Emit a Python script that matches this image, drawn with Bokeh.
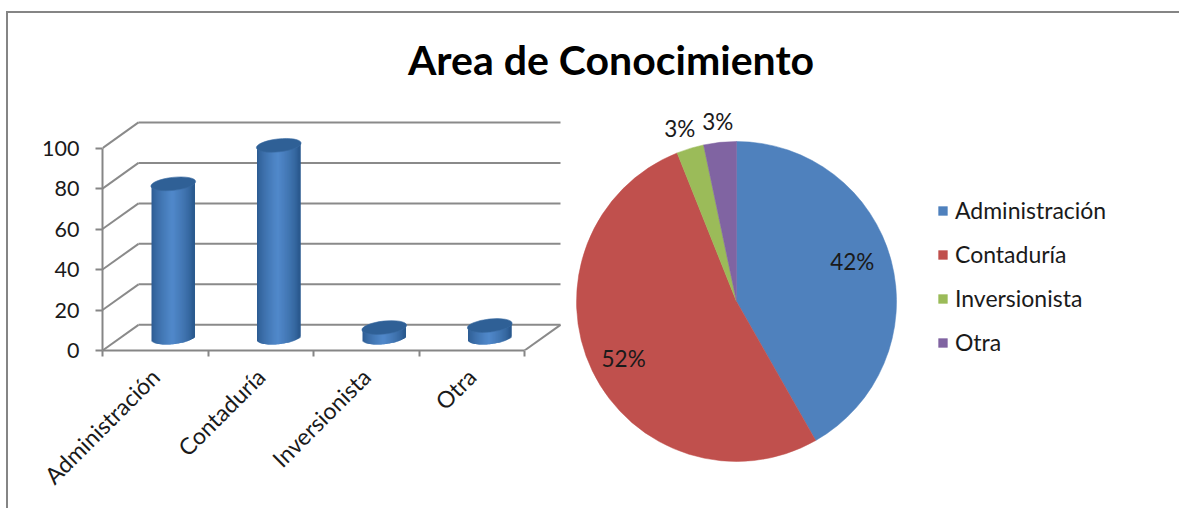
import math
from bokeh.embed import file_html
from bokeh.resources import INLINE
from bokeh.plotting import figure
from bokeh.layouts import column, row
from bokeh.models import (Div, FixedTicker, Legend, LegendItem,
                          LinearAxis, Range1d, Spacer)
from bokeh.core.properties import value

TITLE = "Area de Conocimiento"
categories = ["Administración", "Contaduría", "Inversionista", "Otra"]
values = [76, 95, 5, 6]
percent_labels = ["42%", "52%", "3%", "3%"]
y_ticks = [0, 20, 40, 60, 80, 100]

PIE_COLORS = ["#4f81bd", "#c0504d", "#9bbb59", "#8064a2"]
GRID = "#8a8a8a"
AXIS = "#868686"
TEXT = "#1a1a1a"
FONT = "Lato"
BORDER = "#858585"

PX_X = 105.5   # pixels per category
PX_Y = 2.05    # pixels per value unit
DEPTH_X = 36 / PX_X
DEPTH_Y = 26 / PX_Y
BAR_HALF = 21.75 / PX_X
ELL_W, ELL_H, ELL_ANGLE = 45, 13, 0.11
ARC = 6.5 / PX_Y
TILT = 2.5 / PX_Y


def lerp(c1, c2, t):
    a = [int(c1[i:i + 2], 16) for i in (1, 3, 5)]
    b = [int(c2[i:i + 2], 16) for i in (1, 3, 5)]
    return "#%02x%02x%02x" % tuple(round(x + (y - x) * t) for x, y in zip(a, b))


# ---------- left: 3D cylinder chart ----------
left = figure(width=555, height=397, output_backend="svg", toolbar_location=None,
              x_range=Range1d(0, 462 / PX_X), y_range=Range1d(0, 237 / PX_Y),
              x_axis_type=None, y_axis_type=None, frame_align=False,
              min_border_left=93, min_border_right=0, min_border_top=11, min_border_bottom=149,
              outline_line_color=None)
left.grid.visible = False

n_cat = len(categories)
x0s, y0s, x1s, y1s = [], [], [], []
for t in y_ticks:
    x0s.append(0); y0s.append(t); x1s.append(DEPTH_X); y1s.append(t + DEPTH_Y)
    x0s.append(DEPTH_X); y0s.append(t + DEPTH_Y); x1s.append(n_cat + DEPTH_X); y1s.append(t + DEPTH_Y)
x0s.append(n_cat); y0s.append(0); x1s.append(n_cat + DEPTH_X); y1s.append(DEPTH_Y)
left.segment(x0s, y0s, x1s, y1s, line_color=GRID, line_width=2)

STRIPS = 44
OVERLAP = 1 / PX_X
l, r, b, tp, col = [], [], [], [], []
top_x, top_y = [], []
for i, v in enumerate(values):
    cx = i + 0.5 + DEPTH_X / 2
    base = DEPTH_Y / 2
    top_x.append(cx); top_y.append(base + v)
    for k in range(STRIPS):
        u0 = -1 + 2 * k / STRIPS
        u1 = -1 + 2 * (k + 1) / STRIPS
        u = (u0 + u1) / 2
        l.append(cx + u0 * BAR_HALF)
        r.append(cx + u1 * BAR_HALF + (OVERLAP if k < STRIPS - 1 else 0))
        tp.append(base + v + TILT * u)
        b.append(base + TILT * u - ARC * math.sqrt(max(0, 1 - u * u)))
        shade = max(0, 1 - abs(u + 0.05) / 0.95) ** 0.7
        col.append(lerp("#2b5a8f", "#5189cb", shade))
left.quad(left=l, right=r, bottom=b, top=tp, fill_color=col, line_color=None)
left.ellipse(top_x, top_y, width=ELL_W, height=ELL_H, angle=ELL_ANGLE,
             width_units="screen", height_units="screen",
             fill_color="#2f6096", line_color="#3a6ba3", line_width=0.6)

yaxis = LinearAxis(ticker=FixedTicker(ticks=y_ticks), bounds=(0, 100),
                   axis_line_color=AXIS, axis_line_width=2,
                   major_tick_line_color=AXIS, major_tick_line_width=2,
                   major_tick_out=7, major_tick_in=0,
                   minor_tick_line_color=None, major_label_standoff=16,
                   major_label_text_font=FONT, major_label_text_font_size="21.5px",
                   major_label_text_color=TEXT)
left.add_layout(yaxis, "left")

centers = [i + 0.5 for i in range(n_cat)]
xaxis = LinearAxis(ticker=FixedTicker(ticks=centers, minor_ticks=list(range(n_cat + 1))),
                   bounds=(0, n_cat),
                   major_label_overrides={c: n for c, n in zip(centers, categories)},
                   axis_line_color=AXIS, axis_line_width=2,
                   major_tick_line_color=None, major_tick_out=0, major_tick_in=0,
                   minor_tick_line_color=AXIS, minor_tick_line_width=2,
                   minor_tick_out=6, minor_tick_in=0,
                   major_label_orientation=math.pi / 4, major_label_standoff=16,
                   major_label_text_font=FONT, major_label_text_font_size="23px",
                   major_label_text_color=TEXT)
left.add_layout(xaxis, "below")

# ---------- right: pie ----------
R_PX = 160
right = figure(width=608, height=397, output_backend="svg", toolbar_location=None,
               x_range=Range1d(-172 / R_PX, 436 / R_PX), y_range=Range1d(-201 / R_PX, 196 / R_PX),
               x_axis_type=None, y_axis_type=None, min_border=0, outline_line_color=None,
               frame_align=False)
right.grid.visible = False

total = sum(values)
start = math.pi / 2
items = []
mids = []
for name, v, c in zip(categories, values, PIE_COLORS):
    end = start - 2 * math.pi * v / total
    w = right.wedge(x=[0], y=[0], radius=1, start_angle=end, end_angle=start,
                    fill_color=c, line_color=c, line_width=0.5)
    items.append(LegendItem(label=name, renderers=[w]))
    mids.append((start + end) / 2)
    start = end

LABEL_RADIUS = [0.755, 0.79, 1.14, 1.13]
LABEL_DX = [-1, 1, -4, 0]
LABEL_DY = [-9, 2, 2, 0]
lx = [rr * math.cos(m) for rr, m in zip(LABEL_RADIUS, mids)]
ly = [rr * math.sin(m) for rr, m in zip(LABEL_RADIUS, mids)]
right.text(lx, ly, text=percent_labels, x_offset=LABEL_DX, y_offset=LABEL_DY,
           text_align="center", text_baseline="middle",
           text_font=value(FONT), text_font_size="22.5px", text_color=TEXT)

legend = Legend(items=items, location=(373, 146), orientation="vertical",
                border_line_color=None, background_fill_alpha=0, margin=0, padding=0,
                glyph_width=11, glyph_height=11, label_standoff=7, spacing=16,
                label_height=20, label_text_font=FONT, label_text_font_size="23px",
                label_text_color=TEXT, label_text_baseline="middle")
right.add_layout(legend, "center")

# ---------- title and frame ----------
head = figure(width=1163, height=73, output_backend="svg", toolbar_location=None,
              x_range=Range1d(0, 1), y_range=Range1d(0, 1),
              x_axis_type=None, y_axis_type=None, frame_align=False,
              min_border_left=40, min_border_right=0, min_border_top=0, min_border_bottom=0,
              outline_line_color=None, title=TITLE, title_location="above")
head.grid.visible = False
head.title.align = "center"
head.title.text_font = FONT
head.title.text_font_style = "bold"
head.title.text_font_size = "41px"
head.title.text_color = "#000000"
head.title.standoff = 0
head.title.offset = 0

rule = Div(width=1173, height=2, margin=0, styles={"background-color": BORDER})
strip = Div(width=2, height=495, margin=0, styles={"background-color": BORDER})

body = column(Spacer(width=1163, height=19), head, row(left, right))
page = column(Spacer(width=1179, height=11),
              row(Spacer(width=6, height=2), rule),
              row(Spacer(width=6, height=495), strip, Spacer(width=1, height=495), body))
open("out.html", "w").write(file_html(page, INLINE))
